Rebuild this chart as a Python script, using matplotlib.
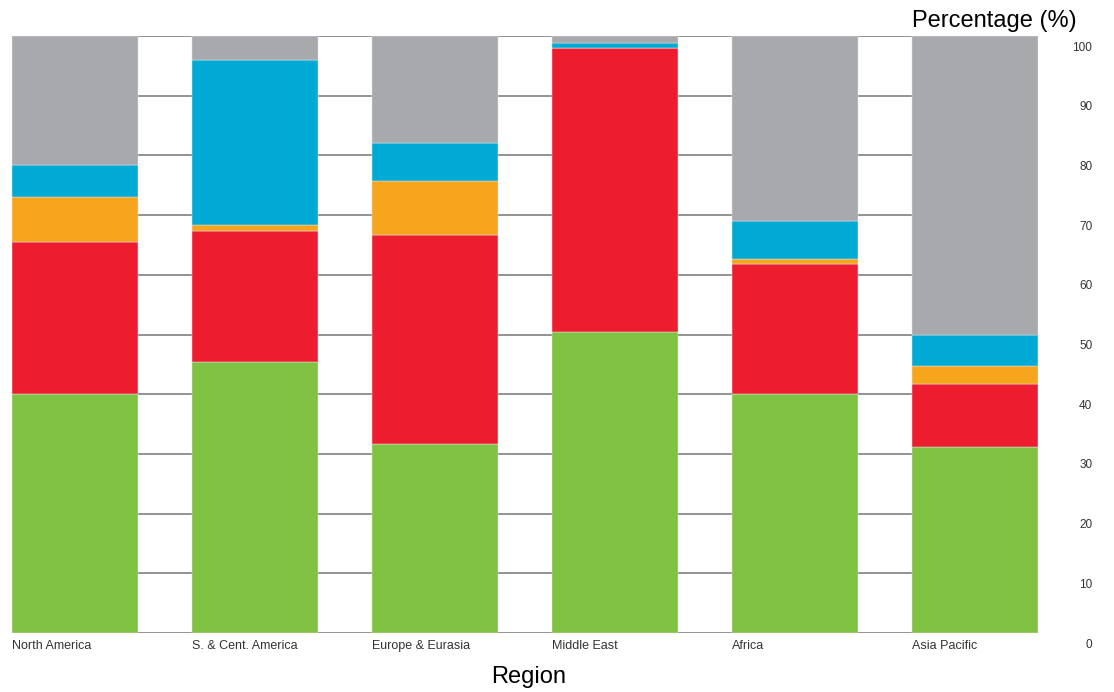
import matplotlib
matplotlib.use('Agg')
from matplotlib import pyplot as plt
from matplotlib import transforms
import numpy as np

regions = ['North America', 'S. & Cent. America', 'Europe & Eurasia',
           'Middle East', 'Africa', 'Asia Pacific']

# share of each segment (%), bottom to top
green = [40.0, 45.4, 31.7, 50.4, 40.0, 31.1]
red = [25.5, 22.0, 34.9, 47.6, 21.8, 10.6]
orange = [7.5, 0.9, 9.1, 0.0, 0.9, 3.1]
blue = [5.4, 27.7, 6.3, 0.9, 6.3, 5.1]
gray = [21.6, 4.0, 18.0, 1.1, 31.0, 50.1]

y_ticks = [0, 10, 20, 30, 40, 50, 60, 70, 80, 90, 100]

series = [green, red, orange, blue, gray]
colors = ['#80c241', '#ed1c2e', '#f7a51c', '#00aad5', '#a8a9ad']

label_font = 'Liberation Sans'


def init_plot():
    fig = plt.figure(figsize=(11.14, 6.92), dpi=100)
    ax = fig.add_axes([12 / 1114, 59 / 692, 1026 / 1114, 597 / 692])
    return fig, ax


def plot_stack(ax):
    x = np.arange(len(regions))
    bottom = np.zeros(len(regions))
    for values, color in zip(series, colors):
        ax.bar(x, values, width=0.7, bottom=bottom, align='edge',
               color=color, edgecolor='#e2e2e2', linewidth=0.35, zorder=2)
        bottom += np.array(values)
    return x


def style_axes(ax, x):
    ax.set_xlim(0, len(regions) - 1 + 0.7)
    ax.set_ylim(0, 100)
    for spine in ax.spines.values():
        spine.set_visible(False)
    for t in y_ticks:
        ax.axhline(t, color='#808080', linewidth=1.2, zorder=1)
    ax.set_xticks([])
    ax.set_yticks([])

    # region names, left aligned with each bar
    for xi, name in zip(x, regions):
        ax.text(xi, 0, name, ha='left', va='top', fontsize=9,
                family=label_font, color='#333333',
                transform=ax.transData + transforms.ScaledTranslation(0, -5 / 72, ax.figure.dpi_scale_trans))

    # value labels on the right, just under each gridline
    offset = transforms.ScaledTranslation(-0.5 / 72, -4 / 72, ax.figure.dpi_scale_trans)
    tr = transforms.blended_transform_factory(ax.figure.transFigure, ax.transData) + offset
    for t in y_ticks:
        ax.text(1093 / 1114, t, str(t), ha='right', va='top', fontsize=8.5,
                family=label_font, color='#333333', transform=tr)


if __name__ == '__main__':
    fig, ax = init_plot()
    x = plot_stack(ax)
    style_axes(ax, x)
    fig.text(1077 / 1114, 1 - 21 / 692, 'Percentage (%)', ha='right', va='center',
             fontsize=17, family=label_font, color='black')
    fig.text(529 / 1114, 1 - 677 / 692, 'Region', ha='center', va='center',
             fontsize=17, family=label_font, color='black')
    fig.savefig('out.png', dpi=100, facecolor='white')
